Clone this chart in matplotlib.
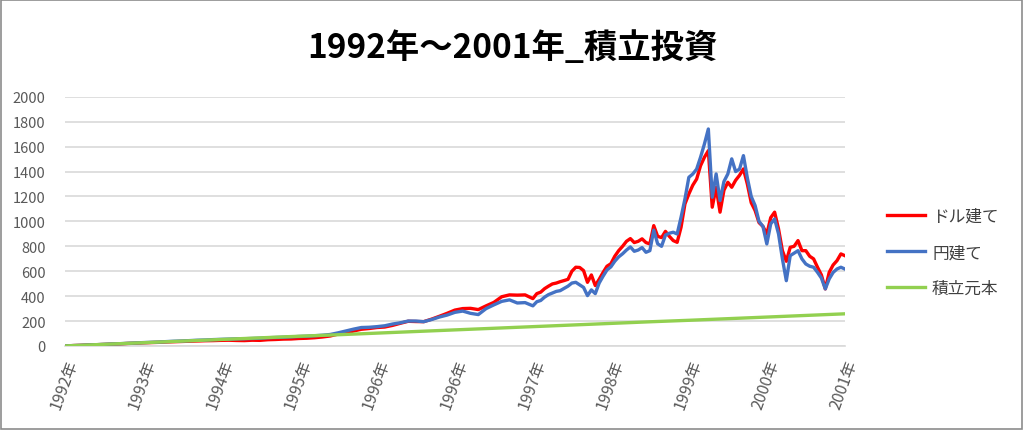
import numpy as np
import matplotlib

matplotlib.use("Agg")
import matplotlib.pyplot as plt
from matplotlib.patches import Rectangle

plt.rcParams["font.family"] = ["Noto Sans CJK JP", "DejaVu Sans"]

TITLE = "1992年～2001年_積立投資"
TICK_LABELS = ["1992年", "1993年", "1994年", "1995年", "1996年", "1996年",
               "1997年", "1998年", "1999年", "2000年", "2001年"]

# time axis in label-interval units (coarse early, finer after the 6th label)
T = np.concatenate([np.arange(0, 61) / 10, np.arange(121, 201) / 20])

YEN = [0, 3, 5, 8, 10, 13, 16, 18, 21, 24,
       27, 29, 31, 35, 38, 40, 43, 46, 48, 51,
       53, 55, 57, 58, 60, 62, 66, 68, 70, 73,
       76, 78, 82, 86, 92, 105, 120, 135, 148, 150,
       155, 162, 176, 186, 200, 200, 195, 212, 232, 248,
       270, 280, 262, 252, 300, 330, 358, 370, 345, 348,
       322,
       355, 365, 392, 412, 425, 438, 444, 462, 480, 505,
       511, 490, 470, 404, 450, 420, 505, 560, 610, 635,
       680, 715, 740, 770, 795, 760, 770, 790, 752, 765,
       930, 820, 800, 890, 905, 913, 899, 1033, 1180, 1354,
       1380, 1420, 1515, 1622, 1742, 1194, 1381, 1167, 1320, 1381,
       1502, 1400, 1420, 1528, 1350, 1200, 1127, 1000, 960, 819,
       980, 1020, 900, 699, 524, 725, 745, 765, 699, 658,
       640, 632, 591, 545, 458, 538, 590, 618, 632, 618]

USD = [0, 3, 5, 8, 10, 12, 15, 17, 20, 22,
       25, 27, 29, 32, 34, 36, 38, 40, 42, 43,
       45, 46, 44, 43, 46, 45, 50, 52, 55, 56,
       60, 62, 66, 72, 80, 95, 105, 120, 134, 140,
       148, 152, 165, 182, 198, 196, 195, 215, 238, 262,
       288, 300, 302, 292, 322, 350, 395, 410, 408, 410,
       380,
       420, 432, 460, 480, 498, 505, 516, 525, 535, 600,
       632, 630, 605, 511, 570, 485, 535, 590, 640, 660,
       720, 765, 800, 840, 862, 830, 840, 860, 830, 819,
       966, 880, 870, 920, 880, 846, 832, 953, 1140, 1220,
       1290, 1340, 1447, 1515, 1568, 1114, 1274, 1074, 1250, 1314,
       1274, 1330, 1370, 1421, 1300, 1150, 1087, 990, 960, 899,
       1030, 1074, 940, 765, 680, 792, 800, 846, 765, 765,
       720, 699, 632, 570, 458, 591, 650, 685, 739, 725]

T_PRINCIPAL = np.arange(0, 21) / 2
PRINCIPAL = [0, 13, 26, 39, 52, 65, 78, 90, 103, 116, 129,
             142, 155, 168, 181, 194, 206, 219, 232, 245, 258]

fig = plt.figure(figsize=(10.24, 4.31), dpi=100)
ax = fig.add_axes([0.0635, 0.195, 0.7615, 0.578])

ax.plot(T, USD, color="#FF0000", lw=2.4, label="ドル建て", zorder=3)
ax.plot(T, YEN, color="#4472C4", lw=2.4, label="円建て", zorder=4)
ax.plot(T_PRINCIPAL, PRINCIPAL, color="#92D050", lw=2.4, label="積立元本", zorder=5)

ax.set_xlim(0, 10)
ax.set_ylim(0, 2000)
ax.set_yticks(range(0, 2001, 200))
ax.set_xticks(range(len(TICK_LABELS)))
ax.set_xticklabels(TICK_LABELS, rotation=70, ha="right", va="top",
                   rotation_mode="anchor")
ax.tick_params(axis="both", length=0, colors="#595959", labelsize=10.5)
ax.tick_params(axis="x", labelsize=11.5, pad=8)
ax.tick_params(axis="y", pad=14)
ax.grid(axis="y", color="#d9d9d9", lw=1.2)
ax.set_axisbelow(True)
for side in ["top", "right", "left"]:
    ax.spines[side].set_visible(False)
ax.spines["bottom"].set_color("#d9d9d9")
ax.spines["bottom"].set_linewidth(1.2)

leg = ax.legend(loc="center left", bbox_to_anchor=(1.035, 0.375), frameon=False,
                fontsize=12, handlelength=2.3, labelspacing=1.15, handletextpad=0.4)
for text in leg.get_texts():
    text.set_color("#404040")

fig.text(0.5, 0.888, TITLE, ha="center", va="center", fontsize=24,
         fontweight="bold", color="black")
fig.patches.append(Rectangle((0.001, 0.002), 0.997, 0.995, transform=fig.transFigure,
                             fill=False, edgecolor="#8c8c8c", lw=1.2))

fig.savefig("out.png", dpi=100)
